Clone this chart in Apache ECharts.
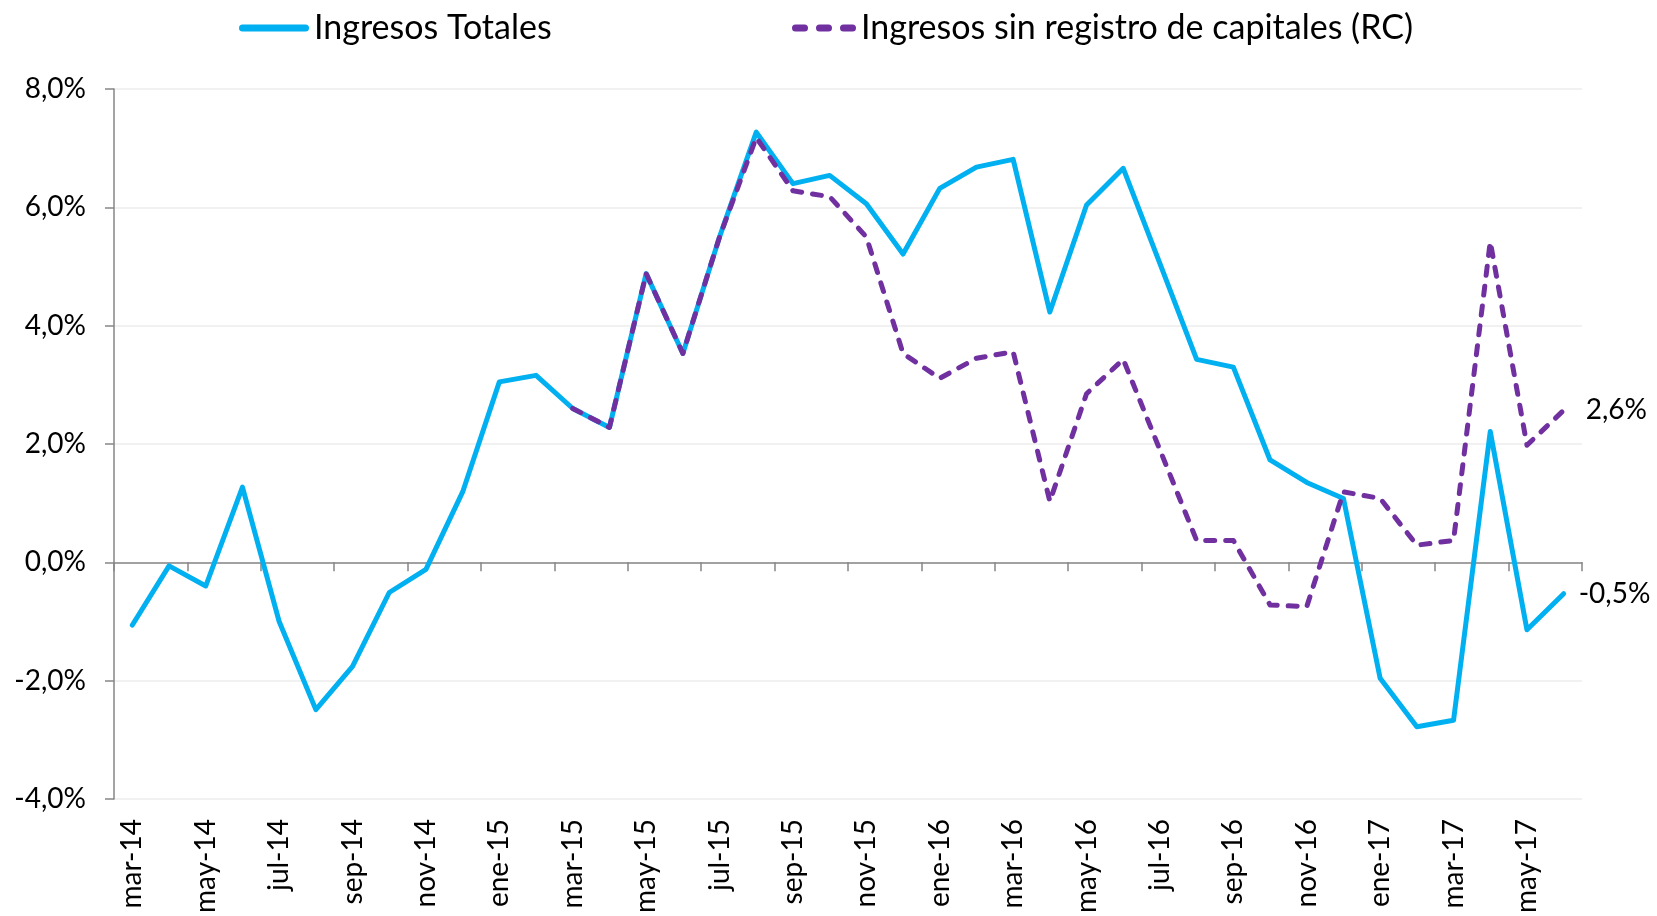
<!DOCTYPE html>
<html>
<head>
<meta charset="utf-8">
<script src="https://cdn.jsdelivr.net/npm/echarts@6/dist/echarts.min.js"></script>
<style>
html,body{margin:0;padding:0;background:#fff;}
#chart{width:1657px;height:916px;}
</style>
</head>
<body>
<div id="chart"></div>
<script>
const categories = ['mar-14','abr-14','may-14','jun-14','jul-14','ago-14','sep-14','oct-14','nov-14','dic-14',
  'ene-15','feb-15','mar-15','abr-15','may-15','jun-15','jul-15','ago-15','sep-15','oct-15','nov-15','dic-15',
  'ene-16','feb-16','mar-16','abr-16','may-16','jun-16','jul-16','ago-16','sep-16','oct-16','nov-16','dic-16',
  'ene-17','feb-17','mar-17','abr-17','may-17','jun-17'];

const ingresosTotales = [-1.06,-0.06,-0.40,1.27,-1.00,-2.49,-1.76,-0.51,-0.12,1.19,
  3.05,3.16,2.60,2.28,4.88,3.53,5.50,7.27,6.40,6.54,6.06,5.21,
  6.32,6.68,6.81,4.23,6.04,6.66,5.05,3.43,3.30,1.73,1.35,1.08,
  -1.96,-2.78,-2.67,2.21,-1.14,-0.53];

const ingresosSinRC = [null,null,null,null,null,null,null,null,null,null,
  null,null,2.60,2.28,4.88,3.53,5.50,7.18,6.28,6.18,5.50,3.53,
  3.11,3.45,3.56,1.03,2.85,3.43,1.90,0.37,0.37,-0.72,-0.75,1.19,
  1.08,0.29,0.37,5.42,1.98,2.57];

const seriesNames = ['Ingresos Totales','Ingresos sin registro de capitales (RC)'];
const yTicks = {min:-4, max:8, interval:2};

const FONT = 'Lato';
const pct = v => v.toFixed(1).replace('.', ',') + '%';

const solidIcon = 'path://M3.5,0 H66.5 A3.5,3.5 0 0 1 66.5,7 H3.5 A3.5,3.5 0 0 1 3.5,0 Z';
const dashIcon = 'path://M3.5,0 H12.5 A3.5,3.5 0 0 1 12.5,7 H3.5 A3.5,3.5 0 0 1 3.5,0 Z ' +
  'M27.5,0 H36.5 A3.5,3.5 0 0 1 36.5,7 H27.5 A3.5,3.5 0 0 1 27.5,0 Z ' +
  'M51.5,0 H60.5 A3.5,3.5 0 0 1 60.5,7 H51.5 A3.5,3.5 0 0 1 51.5,0 Z';

const chart = echarts.init(document.getElementById('chart'), null, {renderer:'canvas'});
chart.setOption({
  animation:false,
  backgroundColor:'#ffffff',
  textStyle:{fontFamily:FONT},
  legend:[
    {data:[{name:seriesNames[0], icon:solidIcon}], left:234, top:6, itemWidth:70, itemHeight:7, itemGap:0,
     textStyle:{fontFamily:FONT, fontSize:34, color:'#000'}},
    {data:[{name:seriesNames[1], icon:dashIcon}], left:787, top:6, itemWidth:64, itemHeight:7, itemGap:0,
     textStyle:{fontFamily:FONT, fontSize:34, color:'#000'}}
  ],
  grid:{left:114, right:75, top:89, bottom:117, containLabel:false},
  xAxis:[
    {type:'category', data:categories, boundaryGap:true, position:'bottom',
     axisLine:{show:false, onZero:false}, axisTick:{show:false},
     axisLabel:{interval:1, rotate:90, margin:20, fontFamily:FONT, fontSize:28, color:'#000'},
     splitLine:{show:false}},
    {type:'category', data:categories, boundaryGap:true, position:'top',
     axisLine:{show:true, onZero:true, lineStyle:{color:'#868686', width:1.5}},
     axisTick:{show:true, interval:1, inside:true, length:9, lineStyle:{color:'#868686', width:1.5}},
     axisLabel:{show:false}, splitLine:{show:false}}
  ],
  yAxis:{type:'value', min:yTicks.min, max:yTicks.max, interval:yTicks.interval,
    axisLine:{show:true, onZero:false, lineStyle:{color:'#868686', width:1.5}},
    axisTick:{show:true, length:9, lineStyle:{color:'#868686', width:1.5}},
    axisLabel:{formatter:pct, margin:28, fontFamily:FONT, fontSize:28, color:'#000'},
    splitLine:{show:true, lineStyle:{color:'#ededed', width:1.5}}},
  series:[
    {name:seriesNames[0], type:'line', data:ingresosTotales, xAxisIndex:0, symbol:'none',
     color:'#00B0F0', lineStyle:{color:'#00B0F0', width:5, cap:'round', join:'round'},
     endLabel:{show:true, formatter:p => pct(p.value), distance:15, fontFamily:FONT, fontSize:28, color:'#000'},
     z:2},
    {name:seriesNames[1], type:'line', data:ingresosSinRC, xAxisIndex:0, symbol:'none', connectNulls:false,
     color:'#7030A0', lineStyle:{color:'#7030A0', width:5, type:[9,11], cap:'round', join:'round'},
     endLabel:{show:true, formatter:p => pct(p.value), distance:22, fontFamily:FONT, fontSize:28, color:'#000'},
     z:3}
  ]
});
</script>
</body>
</html>
